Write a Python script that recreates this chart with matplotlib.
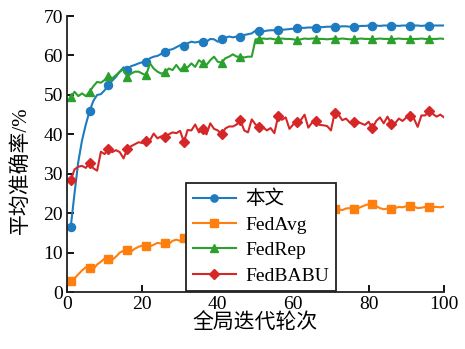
import matplotlib
matplotlib.use("Agg")
import matplotlib.pyplot as plt
import numpy as np

plt.rcParams['font.family'] = ['Liberation Serif', 'Noto Sans CJK SC']
plt.rcParams['axes.unicode_minus'] = False

rounds = list(range(1, 101))

ours = [16.5, 25.0, 33.0, 38.5, 42.5, 45.9, 48.5, 50.0, 50.2, 51.2,
        52.5, 53.6, 54.6, 55.9, 57.0, 56.3, 57.3, 57.6, 58.0, 58.3,
        58.4, 59.3, 59.7, 59.9, 60.4, 60.8, 61.4, 61.6, 62.1, 62.6,
        62.5, 63.1, 63.5, 63.3, 63.5, 63.3, 63.5, 64.2, 64.1, 63.5,
        64.1, 64.5, 64.8, 64.6, 64.8, 64.6, 65.2, 65.4, 65.6, 66.3,
        66.3, 66.1, 66.3, 66.4, 66.4, 66.4, 66.5, 66.6, 66.7, 66.8,
        66.9, 67.0, 67.0, 67.1, 67.1, 67.0, 67.2, 67.2, 67.3, 67.3,
        67.3, 67.3, 67.4, 67.4, 67.3, 67.3, 67.4, 67.5, 67.5, 67.6,
        67.6, 67.6, 67.5, 67.6, 67.6, 67.6, 67.6, 67.5, 67.6, 67.6,
        67.6, 67.6, 67.6, 67.5, 67.6, 67.6, 67.6, 67.6, 67.6, 67.6]

fedavg = [2.9, 3.5, 4.5, 5.5, 6.3, 6.2, 5.8, 7.0, 7.7, 8.5,
          8.4, 8.2, 9.0, 10.0, 10.5, 10.7, 10.3, 11.0, 11.5, 11.8,
          11.7, 11.6, 12.0, 12.5, 12.3, 12.4, 12.2, 13.0, 13.3, 13.0,
          13.6, 14.0, 14.2, 14.5, 14.8, 15.0, 15.3, 15.5, 15.8, 16.0,
          16.2, 16.5, 16.8, 17.0, 17.2, 17.4, 17.6, 17.8, 18.0, 18.2,
          18.4, 18.6, 18.8, 19.0, 19.1, 19.3, 19.5, 19.6, 19.8, 19.9,
          20.0, 20.1, 20.2, 20.4, 20.5, 20.6, 20.7, 20.8, 20.9, 21.0,
          21.0, 21.0, 20.8, 21.2, 21.3, 21.0, 21.2, 21.6, 22.0, 22.3,
          22.3, 21.8, 21.3, 21.0, 21.2, 21.0, 21.3, 21.6, 21.5, 21.8,
          21.9, 21.7, 21.3, 21.4, 21.6, 21.5, 21.6, 21.6, 21.5, 21.7]

fedrep = [49.4, 50.8, 49.7, 50.4, 49.7, 50.8, 52.2, 53.3, 53.1, 53.8,
          54.9, 54.2, 55.0, 55.9, 56.5, 54.6, 55.4, 55.9, 55.9, 55.4,
          55.0, 58.0, 56.7, 55.9, 55.4, 55.7, 56.7, 56.3, 57.6, 56.3,
          57.1, 57.0, 58.0, 57.1, 58.8, 58.1, 57.6, 58.8, 59.7, 58.4,
          58.2, 59.3, 59.7, 60.3, 59.7, 59.7, 59.5, 59.7, 59.7, 64.1,
          64.1, 64.3, 64.2, 64.3, 64.1, 64.1, 64.3, 64.2, 64.2, 64.1,
          63.9, 64.1, 64.3, 64.2, 64.3, 64.3, 64.2, 64.2, 64.1, 64.2,
          64.3, 64.2, 64.3, 64.2, 64.1, 64.1, 64.2, 64.3, 64.2, 64.2,
          64.1, 64.2, 64.3, 64.2, 64.2, 64.1, 64.2, 64.3, 64.2, 64.2,
          64.1, 64.2, 64.2, 64.3, 64.2, 64.1, 64.2, 64.2, 64.3, 64.2]

fedbabu = [28.4, 31.1, 31.8, 32.0, 31.5, 32.8, 31.4, 30.8, 35.6, 35.0,
           36.4, 35.5, 36.0, 35.5, 33.9, 36.3, 37.0, 37.5, 38.0, 37.8,
           38.3, 38.5, 40.2, 39.0, 39.5, 39.4, 40.0, 40.5, 40.3, 40.9,
           38.1, 41.1, 41.0, 42.5, 40.5, 41.3, 40.0, 42.8, 41.4, 41.0,
           40.0, 41.5, 42.0, 42.0, 42.5, 43.6, 41.0, 40.5, 43.8, 42.5,
           41.9, 41.8, 41.0, 41.6, 40.3, 44.6, 43.7, 44.3, 41.4, 42.5,
           43.2, 43.6, 45.0, 41.7, 43.0, 43.4, 42.4, 42.3, 42.1, 41.0,
           45.5, 45.0, 43.6, 44.0, 43.0, 43.2, 43.2, 42.8, 42.4, 43.2,
           41.5, 43.4, 44.3, 42.8, 44.5, 42.6, 42.8, 44.0, 43.4, 44.3,
           44.6, 44.0, 41.9, 44.8, 44.8, 46.0, 45.2, 44.5, 45.0, 44.3]

labels = ['本文', 'FedAvg', 'FedRep', 'FedBABU']
colors = ['#1f7bbf', '#ff7f0e', '#2ca02c', '#d62728']
markers = ['o', 's', '^', 'D']
msizes = [5.8, 5.8, 6.2, 5.5]

fig = plt.figure(figsize=(4.65, 3.49), dpi=100)
ax = fig.add_axes([0.144, 0.163, 0.811, 0.791])

for ys, lab, c, m, ms in zip([ours, fedavg, fedrep, fedbabu], labels, colors, markers, msizes):
    ax.plot(rounds, ys, color=c, lw=1.5, marker=m, markersize=ms,
            markevery=5, label=lab)

ax.set_xlim(0, 100)
ax.set_ylim(0, 70)
ax.set_xticks([0, 20, 40, 60, 80, 100])
ax.set_yticks([0, 10, 20, 30, 40, 50, 60, 70])
ax.spines['top'].set_visible(False)
ax.spines['right'].set_visible(False)
for s in ['left', 'bottom']:
    ax.spines[s].set_linewidth(1.3)
    ax.spines[s].set_color('#222222')
ax.tick_params(direction='in', length=5, width=1.3, labelsize=14, pad=3)
ax.set_xlabel('全局迭代轮次', fontsize=15, labelpad=0)
ax.set_ylabel('平均准确率/%', fontsize=15, labelpad=0)
ax.yaxis.set_label_coords(-0.095, 0.44)

leg = ax.legend(loc='upper left', bbox_to_anchor=(0.316, 0.395), borderaxespad=0,
                fontsize=14, fancybox=False, framealpha=1, edgecolor='#222222',
                handlelength=2.2, handletextpad=0.5, labelspacing=0.4,
                borderpad=0.35, markerscale=0.9)
leg.get_frame().set_linewidth(1.3)

fig.savefig('out.png', dpi=100)
